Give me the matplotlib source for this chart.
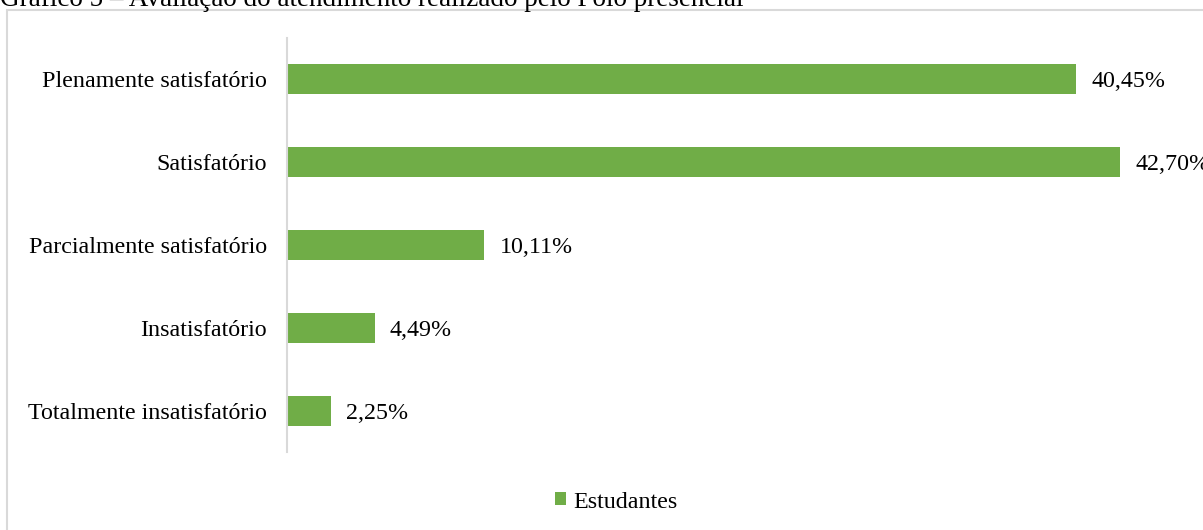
import matplotlib
matplotlib.use("Agg")
import matplotlib.pyplot as plt
from matplotlib.patches import Rectangle

categories = ["Totalmente insatisfatório", "Insatisfatório", "Parcialmente satisfatório",
              "Satisfatório", "Plenamente satisfatório"]
values = [2.25, 4.49, 10.11, 42.70, 40.45]
labels = ["2,25%", "4,49%", "10,11%", "42,70%", "40,45%"]
series_name = "Estudantes"
title = "Gráfico 5 – Avaliação do atendimento realizado pelo Polo presencial"

W, H = 1203, 530
plt.rcParams['font.family'] = ['Liberation Serif', 'DejaVu Serif']
fig = plt.figure(figsize=(W / 100, H / 100), dpi=100)

# outer chart border
fig.patches.append(Rectangle((7 / W, -0.1), 1.2, 1 - 10 / H + 0.1, transform=fig.transFigure,
                             fill=False, edgecolor="#d9d9d9", linewidth=1.5))
fig.text(0, 1 - 6 / H, title, ha="left", va="baseline", fontsize=19.5, color="black")

ax = fig.add_axes([287 / W, (H - 452) / H, (W - 287) / W, 414 / H])
green = "#70ad47"
bars = ax.barh(range(len(categories)), values, height=0.36, color=green, label=series_name)
ax.set_xlim(0, (W - 287) / 19.51)
ax.set_ylim(-0.5, len(categories) - 0.5)
ax.set_yticks(range(len(categories)))
ax.set_yticklabels(categories, fontsize=17.3)
ax.tick_params(axis="y", length=0, pad=14.5)
ax.set_xticks([])
for s in ["top", "right", "bottom"]:
    ax.spines[s].set_visible(False)
ax.spines["left"].set_color("#d9d9d9")
ax.spines["left"].set_linewidth(1.5)
ax.patch.set_visible(False)
for b, lab in zip(bars, labels):
    ax.annotate(lab, (b.get_width(), b.get_y() + b.get_height() / 2), xytext=(11, 0),
                textcoords="offset points", va="center_baseline", ha="left", fontsize=17.3,
                annotation_clip=False)

fig.legend(handles=[bars], labels=[series_name], loc="center", bbox_to_anchor=(616 / W, 1 - 502 / H),
           frameon=False, fontsize=17.3, handlelength=0.45, handleheight=0.45, handletextpad=0.3)

fig.savefig("out.png", dpi=100)
